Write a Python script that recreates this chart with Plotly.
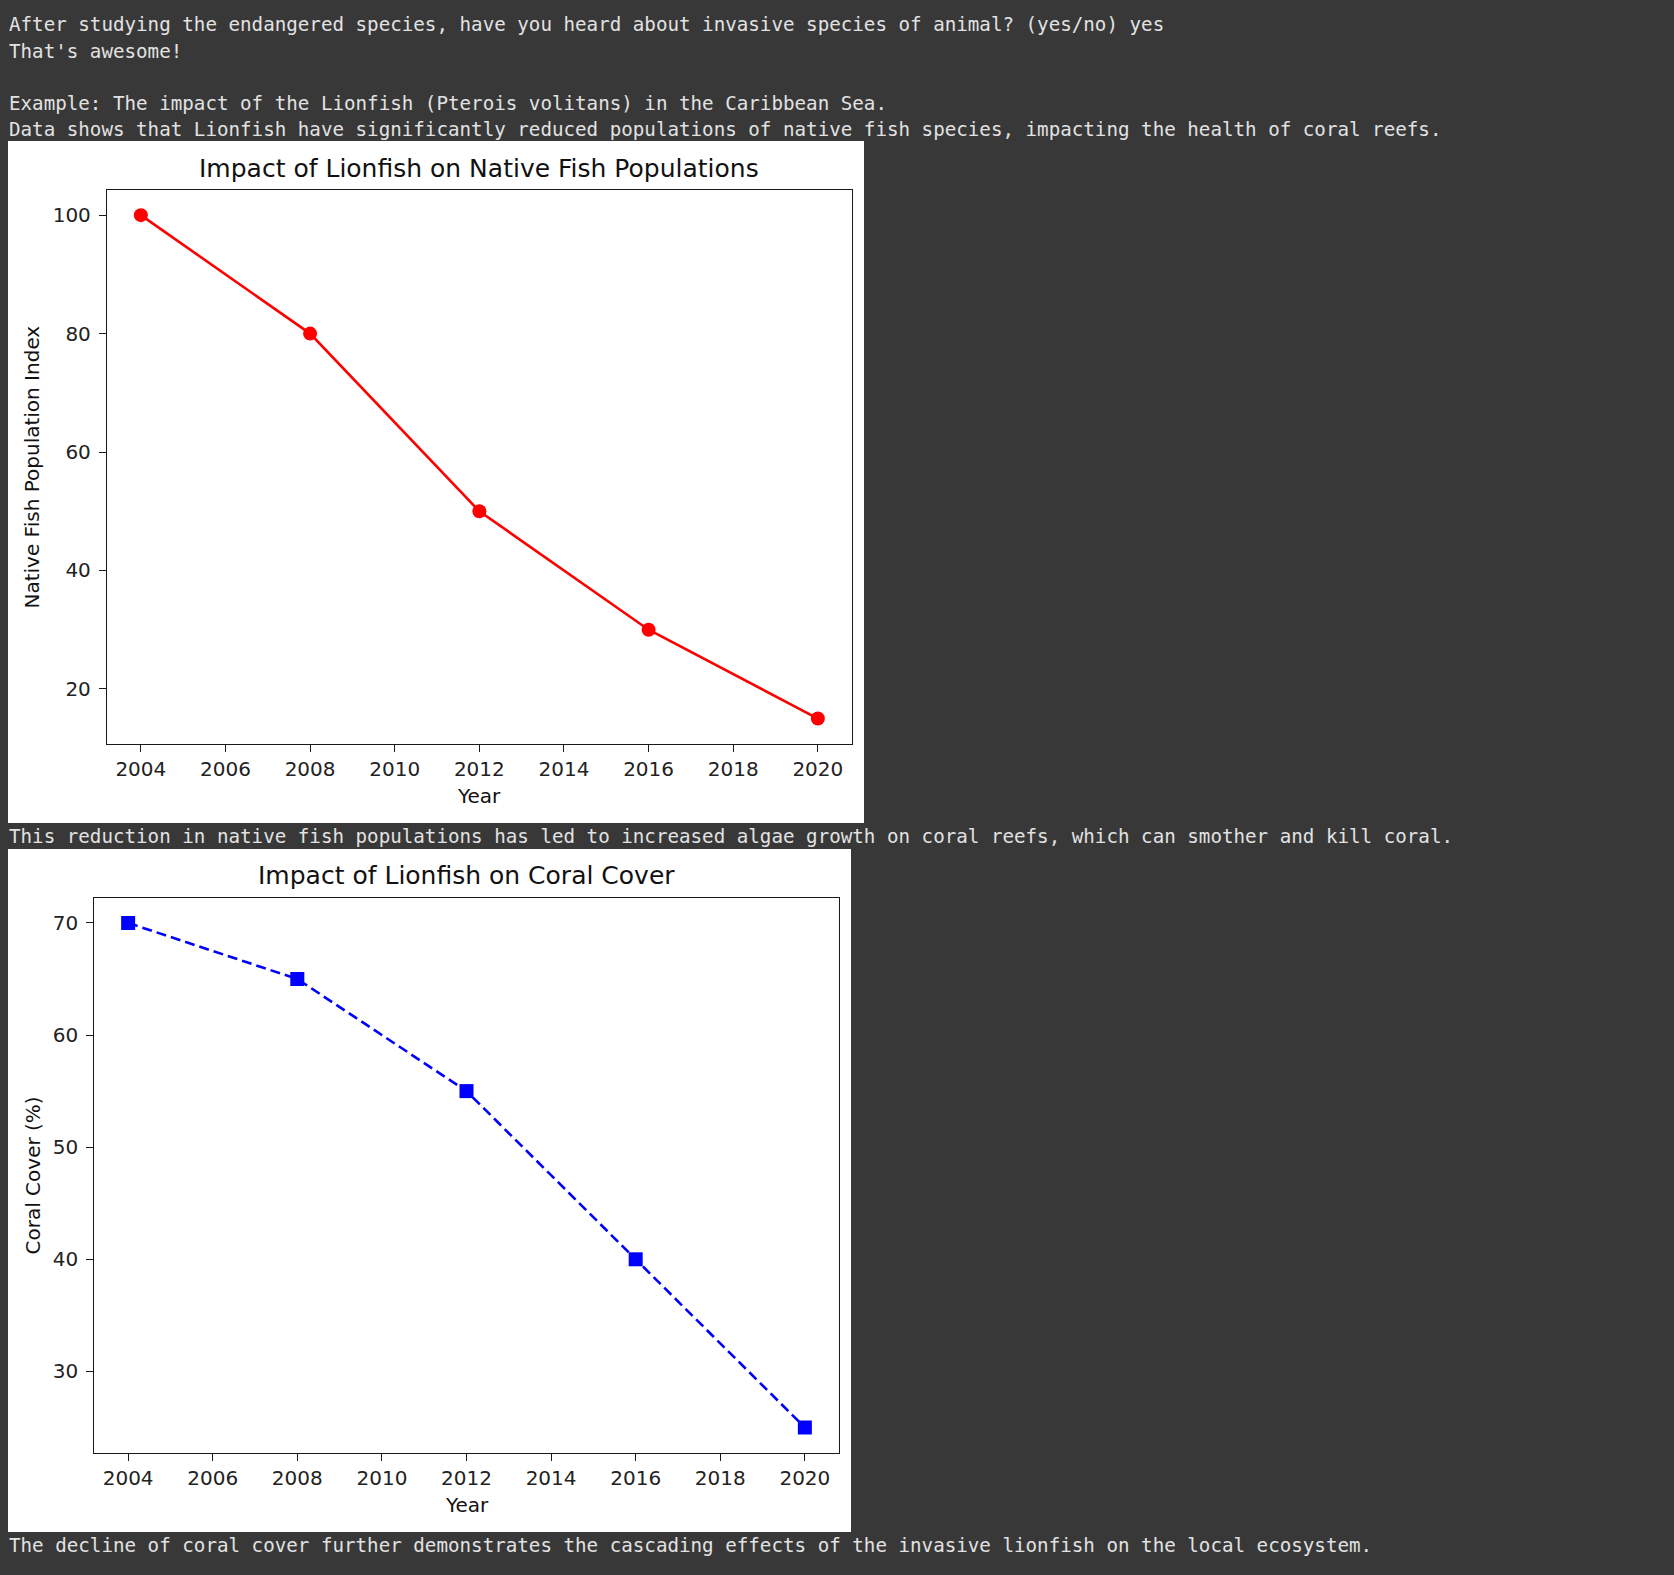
import plotly.graph_objects as go

# ---- data ----
years = [2004, 2008, 2012, 2016, 2020]
native_fish_index = [100, 80, 50, 30, 15]
coral_cover_pct = [70, 65, 55, 40, 25]

x_ticks = [2004, 2006, 2008, 2010, 2012, 2014, 2016, 2018, 2020]
y1_ticks = [20, 40, 60, 80, 100]
y2_ticks = [30, 40, 50, 60, 70]

console_lines = [
    "After studying the endangered species, have you heard about invasive species of animal? (yes/no) yes",
    "That's awesome!",
    "Example: The impact of the Lionfish (Pterois volitans) in the Caribbean Sea.",
    "Data shows that Lionfish have significantly reduced populations of native fish species, impacting the health of coral reefs.",
]
middle_line = "This reduction in native fish populations has led to increased algae growth on coral reefs, which can smother and kill coral."
bottom_line = "The decline of coral cover further demonstrates the cascading effects of the invasive lionfish on the local ecosystem."

title1 = "Impact of Lionfish on Native Fish Populations"
title2 = "Impact of Lionfish on Coral Cover"
ylabel1 = "Native Fish Population Index"
ylabel2 = "Coral Cover (%)"
xlabel = "Year"

# ---- layout helpers ----
W, H = 1674, 1575
BG = "#383838"
TXT = "#e2e2e2"
MONO = "DejaVu Sans Mono"
SANS = "DejaVu Sans"


def fx(px):
    return px / W


def fy(py):
    return 1 - py / H


def padded(vals, frac=0.05):
    lo, hi = min(vals), max(vals)
    m = (hi - lo) * frac
    return [lo - m, hi + m]


fig = go.Figure()

fig.add_trace(go.Scatter(
    x=years, y=native_fish_index, mode="lines+markers",
    line=dict(color="#ff0000", width=2.6),
    marker=dict(symbol="circle", size=14, color="#ff0000"),
    xaxis="x", yaxis="y", showlegend=False,
))
fig.add_trace(go.Scatter(
    x=years, y=coral_cover_pct, mode="lines+markers",
    line=dict(color="#0000ff", width=2.6, dash="10px,5px"),
    marker=dict(symbol="square", size=14, color="#0000ff"),
    xaxis="x2", yaxis="y2", showlegend=False,
))

axis_common = dict(
    showgrid=False, zeroline=False, showline=True, mirror=True,
    linecolor="#1a1a1a", linewidth=1.3,
    ticks="outside", ticklen=7, tickwidth=1.2, tickcolor="#1a1a1a",
    tickfont=dict(family=SANS, size=20, color="#222222"),
)

fig.update_layout(
    width=W, height=H,
    margin=dict(l=0, r=0, t=0, b=0),
    paper_bgcolor=BG, plot_bgcolor="white",
    xaxis=dict(domain=[fx(107), fx(851.7)], range=padded(years),
               tickvals=x_ticks, anchor="y", ticklabelstandoff=0, **axis_common),
    yaxis=dict(domain=[fy(743.7), fy(190)], range=padded(native_fish_index),
               tickvals=y1_ticks, anchor="x", ticklabelstandoff=4, **axis_common),
    xaxis2=dict(domain=[fx(94.3), fx(838.7)], range=padded(years),
                tickvals=x_ticks, anchor="y2", ticklabelstandoff=0, **axis_common),
    yaxis2=dict(domain=[fy(1452.7), fy(897.7)], range=padded(coral_cover_pct),
                tickvals=y2_ticks, anchor="x2", ticklabelstandoff=4, **axis_common),
    shapes=[
        dict(type="rect", xref="paper", yref="paper", layer="below",
             x0=fx(8), x1=fx(864), y0=fy(823), y1=fy(141),
             fillcolor="white", line=dict(width=0)),
        dict(type="rect", xref="paper", yref="paper", layer="below",
             x0=fx(8), x1=fx(851), y0=fy(1532), y1=fy(849),
             fillcolor="white", line=dict(width=0)),
    ],
)

annots = []


def mono(text, ypx):
    annots.append(dict(text=text, xref="paper", yref="paper", x=fx(7), y=fy(ypx),
                       xanchor="left", yanchor="middle", showarrow=False,
                       font=dict(family=MONO, size=19.2, color=TXT)))


for t, ypx in zip(console_lines, [25, 51, 103.5, 129]):
    mono(t, ypx)
mono(middle_line, 836.5)
mono(bottom_line, 1545.5)


def sans(text, xpx, ypx, size, angle=0):
    annots.append(dict(text=text, xref="paper", yref="paper", x=fx(xpx), y=fy(ypx),
                       xanchor="center", yanchor="middle", showarrow=False, textangle=angle,
                       font=dict(family=SANS, size=size, color="#111111")))


sans(title1, 479.3, 168, 25)
sans(title2, 466.5, 875.5, 25)
sans(xlabel, 479.3, 796, 20)
sans(xlabel, 466.5, 1505, 20)
sans(ylabel1, 31.5, 467, 20, -90)
sans(ylabel2, 32.5, 1176, 20, -90)

fig.update_layout(annotations=annots)

fig.write_html(
    "out.html",
    config={"displayModeBar": False},
    post_script="document.body.style.margin='0';document.body.style.background='%s';" % BG,
)
